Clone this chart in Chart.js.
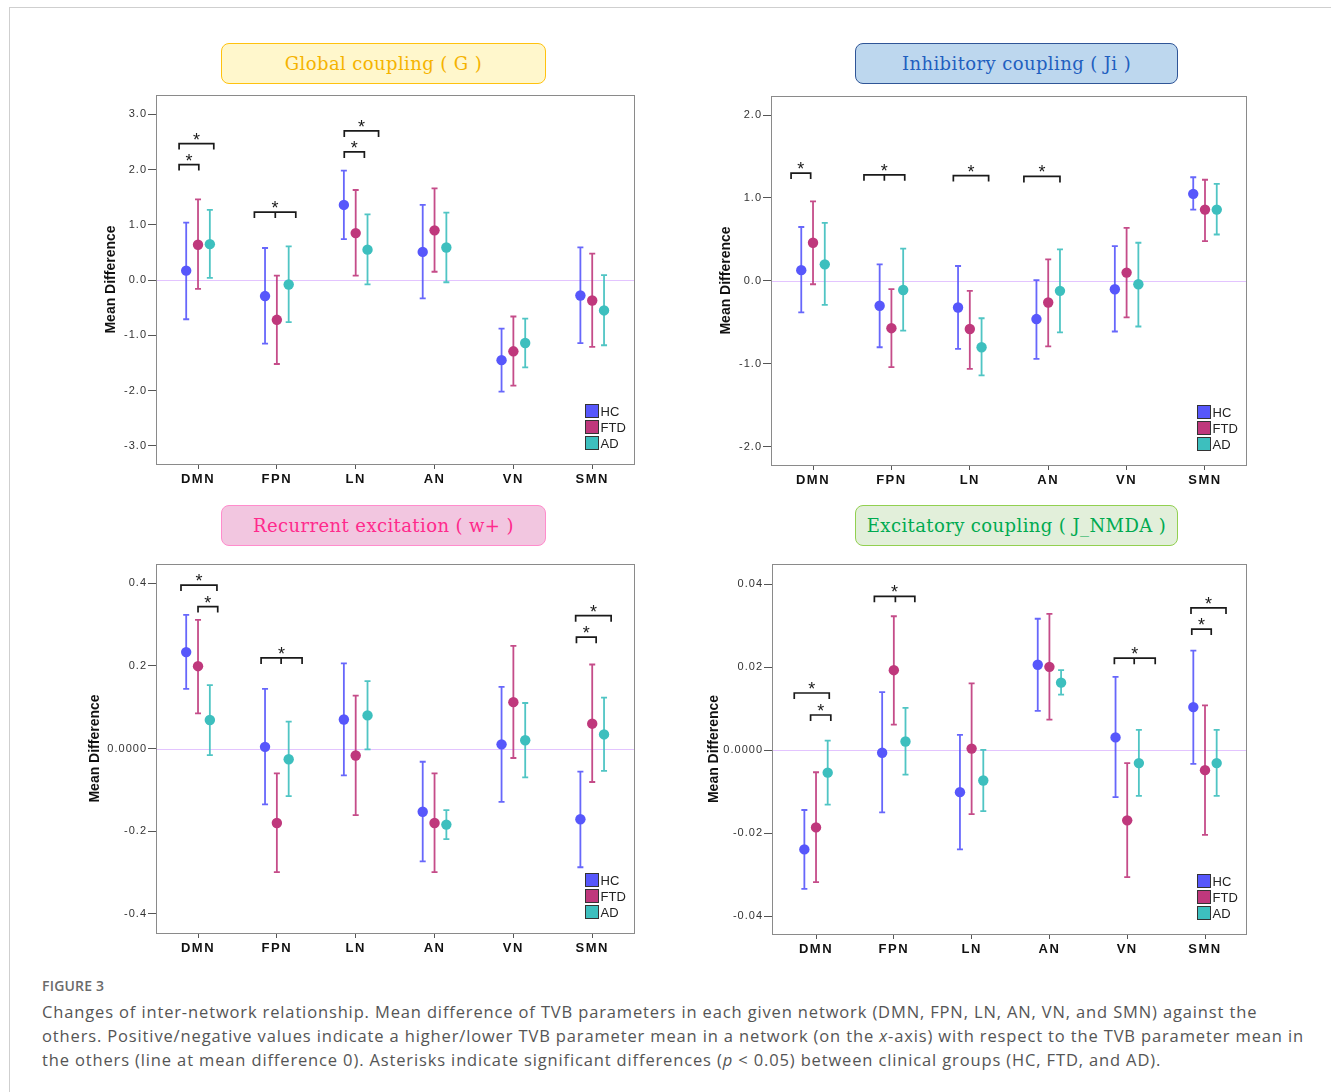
<!DOCTYPE html>
<html><head><meta charset="utf-8">
<script src="https://cdn.jsdelivr.net/npm/chart.js@4.4.1/dist/chart.umd.min.js"></script>
<style>
html,body{margin:0;padding:0;background:#fff;}
body{width:1331px;height:1092px;position:relative;overflow:hidden;font-family:"Liberation Sans",Arial,sans-serif;}
.frame-top{position:absolute;left:9px;top:7px;right:0;height:0;border-top:1.5px solid #cfcfcf;}
.frame-left{position:absolute;left:9px;top:7px;bottom:0;width:0;border-left:1.5px solid #cfcfcf;}
.ttl{position:absolute;box-sizing:border-box;border-radius:8px;display:flex;align-items:center;justify-content:center;font-family:"DejaVu Serif",serif;font-size:18px;letter-spacing:0.4px;white-space:nowrap;}
.pan{position:absolute;}
.figlab{position:absolute;left:42px;top:976px;font-family:"Open Sans",sans-serif;font-weight:600;font-size:14px;color:#6b6b6b;letter-spacing:0.2px;}
.cap{position:absolute;left:42px;top:1000px;font-family:"Open Sans",sans-serif;font-size:16.5px;letter-spacing:0.86px;line-height:24px;color:#555;}
.cap div{white-space:nowrap;}
</style>
</head>
<body>
<div class="frame-top"></div><div class="frame-left"></div>

<div class="ttl" style="left:221px;top:43px;width:325px;height:41px;background:#fff7cc;border:1.5px solid #ffc20e;color:#f5b300;">Global coupling ( G )</div>
<div class="ttl" style="left:855px;top:43px;width:323px;height:41px;background:#bdd7ee;border:1.5px solid #2f5597;color:#1f5fbf;">Inhibitory coupling ( Ji )</div>
<div class="ttl" style="left:221px;top:505px;width:325px;height:41px;background:#f2c6e0;border:1.5px solid #ff8ccc;color:#ff2a8c;">Recurrent excitation ( w+ )</div>
<div class="ttl" style="left:855px;top:505px;width:323px;height:41px;background:#e2efda;border:1.5px solid #92d050;color:#00aa50;">Excitatory coupling ( J_NMDA )</div>

<div class="pan" style="left:81px;top:85px;"><canvas id="c1" width="563" height="414"></canvas></div>
<div class="pan" style="left:696px;top:86px;"><canvas id="c2" width="560" height="414"></canvas></div>
<div class="pan" style="left:81px;top:554px;"><canvas id="c3" width="563" height="414"></canvas></div>
<div class="pan" style="left:697px;top:554px;"><canvas id="c4" width="559" height="415"></canvas></div>

<div class="figlab">FIGURE 3</div>
<div class="cap">
<div>Changes of inter-network relationship. Mean difference of TVB parameters in each given network (DMN, FPN, LN, AN, VN, and SMN) against the</div>
<div>others. Positive/negative values indicate a higher/lower TVB parameter mean in a network (on the <i>x</i>-axis) with respect to the TVB parameter mean in</div>
<div>the others (line at mean difference 0). Asterisks indicate significant differences (<i>p</i> &lt; 0.05) between clinical groups (HC, FTD, and AD).</div>
</div>

<script>
// ---------- categories / groups ----------
const categories = ['DMN','FPN','LN','AN','VN','SMN'];
const groups = ['HC','FTD','AD'];

// ---------- Global coupling (G) ----------
const G_HC_mean  = [0.17, -0.29, 1.36, 0.51, -1.45, -0.28];
const G_HC_low   = [-0.71, -1.15, 0.74, -0.33, -2.02, -1.14];
const G_HC_high  = [1.04, 0.58, 1.98, 1.36, -0.88, 0.59];
const G_FTD_mean = [0.64, -0.72, 0.85, 0.90, -1.29, -0.37];
const G_FTD_low  = [-0.16, -1.52, 0.08, 0.15, -1.91, -1.21];
const G_FTD_high = [1.46, 0.08, 1.63, 1.66, -0.66, 0.48];
const G_AD_mean  = [0.65, -0.08, 0.55, 0.59, -1.14, -0.55];
const G_AD_low   = [0.04, -0.76, -0.08, -0.04, -1.58, -1.18];
const G_AD_high  = [1.27, 0.61, 1.19, 1.22, -0.70, 0.09];
const G_ticks    = [-3, -2, -1, 0, 1, 2, 3];
const G_tickLabels = ['-3.0','-2.0','-1.0','0.0','1.0','2.0','3.0'];

// ---------- Inhibitory coupling (Ji) ----------
const Ji_HC_mean  = [0.13, -0.30, -0.32, -0.46, -0.10, 1.05];
const Ji_HC_low   = [-0.38, -0.80, -0.82, -0.94, -0.61, 0.86];
const Ji_HC_high  = [0.65, 0.20, 0.18, 0.01, 0.42, 1.25];
const Ji_FTD_mean = [0.46, -0.57, -0.58, -0.26, 0.10, 0.86];
const Ji_FTD_low  = [-0.04, -1.04, -1.06, -0.79, -0.44, 0.48];
const Ji_FTD_high = [0.96, -0.10, -0.12, 0.26, 0.64, 1.22];
const Ji_AD_mean  = [0.20, -0.11, -0.80, -0.12, -0.04, 0.86];
const Ji_AD_low   = [-0.29, -0.60, -1.14, -0.62, -0.55, 0.56];
const Ji_AD_high  = [0.70, 0.39, -0.45, 0.38, 0.46, 1.17];
const Ji_ticks    = [-2, -1, 0, 1, 2];
const Ji_tickLabels = ['-2.0','-1.0','0.0','1.0','2.0'];

// ---------- Recurrent excitation (w+) ----------
const W_HC_mean  = [0.233, 0.004, 0.070, -0.153, 0.010, -0.171];
const W_HC_low   = [0.144, -0.135, -0.065, -0.273, -0.129, -0.287];
const W_HC_high  = [0.323, 0.144, 0.206, -0.032, 0.149, -0.056];
const W_FTD_mean = [0.199, -0.180, -0.017, -0.180, 0.112, 0.060];
const W_FTD_low  = [0.085, -0.299, -0.161, -0.299, -0.023, -0.081];
const W_FTD_high = [0.311, -0.060, 0.128, -0.060, 0.248, 0.203];
const W_AD_mean  = [0.069, -0.026, 0.080, -0.184, 0.020, 0.034];
const W_AD_low   = [-0.016, -0.115, -0.002, -0.219, -0.070, -0.054];
const W_AD_high  = [0.153, 0.065, 0.163, -0.149, 0.110, 0.123];
const W_ticks    = [-0.4, -0.2, 0, 0.2, 0.4];
const W_tickLabels = ['-0.4','-0.2','0.0000','0.2','0.4'];

// ---------- Excitatory coupling (J_NMDA) ----------
const J_HC_mean  = [-0.0239, -0.0006, -0.0101, 0.0206, 0.0031, 0.0104];
const J_HC_low   = [-0.0334, -0.0150, -0.0239, 0.0095, -0.0113, -0.0033];
const J_HC_high  = [-0.0144, 0.0140, 0.0037, 0.0317, 0.0177, 0.0240];
const J_FTD_mean = [-0.0186, 0.0193, 0.0004, 0.0201, -0.0169, -0.0048];
const J_FTD_low  = [-0.0318, 0.0062, -0.0154, 0.0074, -0.0306, -0.0204];
const J_FTD_high = [-0.0053, 0.0323, 0.0161, 0.0329, -0.0031, 0.0108];
const J_AD_mean  = [-0.0054, 0.0021, -0.0073, 0.0163, -0.0031, -0.0031];
const J_AD_low   = [-0.0131, -0.0059, -0.0147, 0.0134, -0.0110, -0.0110];
const J_AD_high  = [0.0023, 0.0102, 0.0001, 0.0193, 0.0049, 0.0049];
const J_ticks    = [-0.04, -0.02, 0, 0.02, 0.04];
const J_tickLabels = ['-0.04','-0.02','0.0000','0.02','0.04'];

// ---------- significance brackets (category, left/right offset, level, optional middle leg) ----------
const G_brackets = [
  {c:0, x0:-0.24, x1:0.01, y:2.09}, {c:0, x0:-0.24, x1:0.20, y:2.47},
  {c:1, x0:-0.285, x1:0.24, m:-0.02, y:1.23},
  {c:2, x0:-0.145, x1:0.11, y:2.32}, {c:2, x0:-0.145, x1:0.29, y:2.70}
];
const Ji_brackets = [
  {c:0, x0:-0.28, x1:-0.03, y:1.30},
  {c:1, x0:-0.35, x1:0.17, m:-0.09, y:1.28},
  {c:2, x0:-0.21, x1:0.24, y:1.27},
  {c:3, x0:-0.31, x1:0.15, y:1.26}
];
const W_brackets = [
  {c:0, x0:-0.216, x1:0.24, y:0.395}, {c:0, x0:0.0, x1:0.25, y:0.343},
  {c:1, x0:-0.20, x1:0.32, m:0.054, y:0.219},
  {c:5, x0:-0.21, x1:0.24, y:0.321}, {c:5, x0:-0.20, x1:0.05, y:0.269}
];
const J_brackets = [
  {c:0, x0:-0.28, x1:0.17, y:0.0138}, {c:0, x0:-0.07, x1:0.19, y:0.0085},
  {c:1, x0:-0.25, x1:0.27, m:0.02, y:0.0371},
  {c:4, x0:-0.165, x1:0.36, m:0.09, y:0.0222},
  {c:5, x0:-0.18, x1:0.27, y:0.0343}, {c:5, x0:-0.17, x1:0.08, y:0.0292}
];

// ---------- styles ----------
const COLORS = {HC:'#5757fb', FTD:'#bf387c', AD:'#3dbfbe'};
const GROUP_OFFSET = {HC:-0.15, FTD:0, AD:0.15};
const FONT = '"Liberation Sans", Arial, sans-serif';
Chart.defaults.font.family = FONT;

const deco = {
  id:'deco',
  afterLayout(chart){
    Object.values(chart.scales).forEach(s=>{
      if (s._lsPatched) return;
      s._lsPatched = true;
      const dl = s.drawLabels.bind(s);
      s.drawLabels = (ca)=>{ chart.ctx.letterSpacing = s.axis==='x' ? '1.5px' : '1px'; dl(ca); chart.ctx.letterSpacing='0px'; };
    });
  },
  beforeDatasetsDraw(chart){
    const {ctx, chartArea:a, scales:{x,y}} = chart;
    ctx.save();
    const y0 = Math.round(y.getPixelForValue(0)) + 0.5;
    ctx.strokeStyle = '#e3c4ff'; ctx.lineWidth = 1.2;
    ctx.beginPath(); ctx.moveTo(a.left, y0); ctx.lineTo(a.right, y0); ctx.stroke();
    chart.data.datasets.forEach(ds=>{
      ctx.strokeStyle = ds.backgroundColor; ctx.lineWidth = 1.8; ctx.globalAlpha = 0.9;
      ds.data.forEach((p,i)=>{
        const px = x.getPixelForValue(p.x);
        const yl = y.getPixelForValue(ds.errLow[i]);
        const yh = y.getPixelForValue(ds.errHigh[i]);
        ctx.beginPath();
        ctx.moveTo(px, yl); ctx.lineTo(px, yh);
        ctx.moveTo(px-3, yl); ctx.lineTo(px+3, yl);
        ctx.moveTo(px-3, yh); ctx.lineTo(px+3, yh);
        ctx.stroke();
      });
    });
    ctx.globalAlpha = 1;
    ctx.strokeStyle = '#8a8a8a'; ctx.lineWidth = 1;
    ctx.strokeRect(Math.round(a.left)+0.5, Math.round(a.top)+0.5, Math.round(a.right-a.left), Math.round(a.bottom-a.top));
    ctx.restore();
  },
  afterDatasetsDraw(chart){
    const {ctx, chartArea:a, scales:{x,y}} = chart;
    const br = chart.options.plugins.deco.brackets;
    ctx.save();
    ctx.strokeStyle = '#1a1a1a'; ctx.fillStyle = '#1a1a1a'; ctx.lineWidth = 1.7;
    ctx.font = '18px ' + FONT; ctx.textAlign = 'center'; ctx.textBaseline = 'alphabetic';
    br.forEach(b=>{
      const xl = x.getPixelForValue(b.c + b.x0), xr = x.getPixelForValue(b.c + b.x1);
      const yb = y.getPixelForValue(b.y);
      ctx.beginPath();
      ctx.moveTo(xl, yb+6); ctx.lineTo(xl, yb); ctx.lineTo(xr, yb); ctx.lineTo(xr, yb+6);
      if (b.m !== undefined){ const xm = x.getPixelForValue(b.c + b.m); ctx.moveTo(xm, yb); ctx.lineTo(xm, yb+6); }
      ctx.stroke();
      ctx.fillText('*', (xl+xr)/2, yb + 2);
    });
    ctx.font = '13px ' + FONT; ctx.textAlign = 'left'; ctx.textBaseline = 'middle';
    groups.forEach((g,k)=>{
      const bx = Math.round(a.right - 49) + 0.5;
      const by = Math.round(a.bottom - 15 - 13 - (groups.length-1-k)*16) + 0.5;
      ctx.fillStyle = COLORS[g]; ctx.fillRect(bx, by, 13, 13);
      ctx.strokeStyle = '#333'; ctx.lineWidth = 1; ctx.strokeRect(bx, by, 13, 13);
      ctx.fillStyle = '#222'; ctx.fillText(g, bx + 15, by + 7.5);
    });
    ctx.restore();
  }
};

function makePanel(id, series, ticks, tickLabels, brackets, xr, yr, titlePad){
  const datasets = groups.map(g=>({
    label: g,
    data: categories.map((c,i)=>({x: i + GROUP_OFFSET[g], y: series[g].mean[i]})),
    errLow: series[g].low, errHigh: series[g].high,
    backgroundColor: COLORS[g], borderWidth: 0,
    pointRadius: 5.2, pointHoverRadius: 5.2, showLine:false
  }));
  new Chart(document.getElementById(id), {
    type:'scatter',
    data:{datasets},
    plugins:[deco],
    options:{
      responsive:false, animation:false, events:[],
      layout:{padding:{left:0, top:10, right:10, bottom:0}},
      plugins:{legend:{display:false}, tooltip:{enabled:false}, deco:{brackets}},
      scales:{
        x:{type:'linear', min:xr[0], max:xr[1],
           afterBuildTicks: s=>{ s.ticks = categories.map((c,i)=>({value:i})); },
           afterFit: s=>{ s.height = 35; },
           ticks:{callback:(v)=>categories[Math.round(v)], font:{size:13, weight:'bold'}, color:'#111', padding:3, maxRotation:0, autoSkip:false},
           grid:{display:true, drawOnChartArea:false, drawTicks:true, tickLength:5, color:'#555'},
           border:{display:false}},
        y:{type:'linear', min:yr[0], max:yr[1],
           afterBuildTicks: s=>{ s.ticks = ticks.map(v=>({value:v})); },
           afterFit: s=>{ s.width = 75; },
           ticks:{callback:(v)=>{ const k = ticks.findIndex(t=>Math.abs(t-v)<1e-9); return k>=0 ? tickLabels[k] : ''; }, font:{size:11}, color:'#333', padding:1},
           grid:{display:true, drawOnChartArea:false, drawTicks:true, tickLength:8, color:'#555'},
           border:{display:false},
           title:{display:true, text:'Mean Difference', font:{size:14, weight:'bold'}, color:'#111', padding:{top:titlePad, bottom:0}}}
      }
    }
  });
}

makePanel('c1', {HC:{mean:G_HC_mean, low:G_HC_low, high:G_HC_high}, FTD:{mean:G_FTD_mean, low:G_FTD_low, high:G_FTD_high}, AD:{mean:G_AD_mean, low:G_AD_low, high:G_AD_high}},
  G_ticks, G_tickLabels, G_brackets, [-0.533, 5.53], [-3.33, 3.35], 21.6);
makePanel('c2', {HC:{mean:Ji_HC_mean, low:Ji_HC_low, high:Ji_HC_high}, FTD:{mean:Ji_FTD_mean, low:Ji_FTD_low, high:Ji_FTD_high}, AD:{mean:Ji_AD_mean, low:Ji_AD_low, high:Ji_AD_high}},
  Ji_ticks, Ji_tickLabels, Ji_brackets, [-0.536, 5.523], [-2.22, 2.23], 21.6);
makePanel('c3', {HC:{mean:W_HC_mean, low:W_HC_low, high:W_HC_high}, FTD:{mean:W_FTD_mean, low:W_FTD_low, high:W_FTD_high}, AD:{mean:W_AD_mean, low:W_AD_low, high:W_AD_high}},
  W_ticks, W_tickLabels, W_brackets, [-0.533, 5.53], [-0.446, 0.446], 5.6);
makePanel('c4', {HC:{mean:J_HC_mean, low:J_HC_low, high:J_HC_high}, FTD:{mean:J_FTD_mean, low:J_FTD_low, high:J_FTD_high}, AD:{mean:J_AD_mean, low:J_AD_low, high:J_AD_high}},
  J_ticks, J_tickLabels, J_brackets, [-0.566, 5.527], [-0.0443, 0.0449], 8.6);
</script>
</body></html>
